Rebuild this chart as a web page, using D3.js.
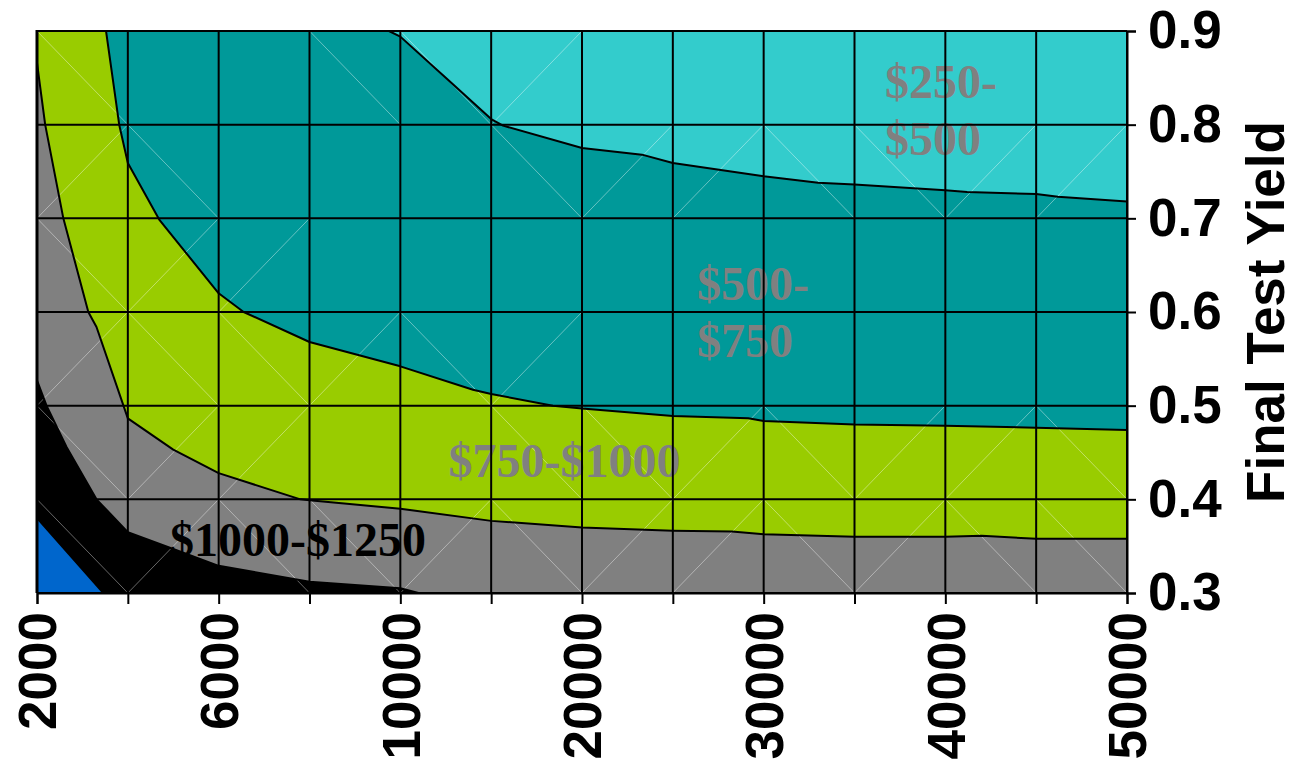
<!DOCTYPE html>
<html>
<head>
<meta charset="utf-8">
<script src="https://cdn.jsdelivr.net/npm/d3@7"></script>
<style>
  html, body { margin: 0; padding: 0; background: #fff; }
  svg { display: block; }
</style>
</head>
<body>
<svg id="chart" width="1295" height="763"></svg>
<script>
// ---- Data -------------------------------------------------------------
// Production volume categories along the bottom axis
const volumes = [2000, 4000, 6000, 8000, 10000, 15000, 20000, 25000, 30000, 35000, 40000, 45000, 50000];
// Categories that carry a printed label
const volumeTickLabels = [2000, 6000, 10000, 20000, 30000, 40000, 50000];
// Final test yield ticks on the right axis
const yieldTicks = [0.3, 0.4, 0.5, 0.6, 0.7, 0.8, 0.9];

// Cost contour lines, as [volume, final test yield] vertices
const contour500 = [[2000, 0.90], [9750, 0.90], [10000, 0.894], [12500, 0.850], [15000, 0.806], [15650, 0.799],
  [20000, 0.775], [23300, 0.768], [25000, 0.759], [30000, 0.745], [33000, 0.738], [35000, 0.736],
  [40000, 0.730], [41200, 0.728], [45000, 0.726], [46200, 0.723], [50000, 0.718]];
const contour750 = [[2000, 0.90], [3520, 0.90], [3810, 0.80], [4000, 0.759], [4700, 0.698], [6000, 0.620],
  [6550, 0.600], [8000, 0.568], [10000, 0.542], [14000, 0.517], [15000, 0.5125], [18400, 0.500],
  [20000, 0.497], [25000, 0.489], [29150, 0.4865], [30000, 0.4836], [35000, 0.480], [40000, 0.4786],
  [45000, 0.4765], [50000, 0.474]];
const contour1000 = [[2000, 0.866], [2180, 0.80], [2580, 0.70], [3130, 0.60], [3310, 0.584], [4000, 0.4865],
  [5000, 0.453], [6000, 0.428], [7800, 0.400], [8000, 0.399], [10000, 0.390], [15000, 0.377],
  [20000, 0.370], [25000, 0.3665], [28250, 0.3656], [30000, 0.3627], [35000, 0.360], [40000, 0.360],
  [42000, 0.361], [45000, 0.358], [50000, 0.358]];
const contour1250 = [[2000, 0.527], [2210, 0.500], [2650, 0.456], [3310, 0.400], [4000, 0.365], [5000, 0.347],
  [6000, 0.329], [8000, 0.312], [10000, 0.305], [11000, 0.300], [50000, 0.300]];
const contour1500 = [[2000, 0.380], [3460, 0.300], [50000, 0.300]];

// Cost bands, from the cheapest (top right) to the most expensive (bottom left)
const bandNames = ["$250-$500", "$500-$750", "$750-$1000", "$1000-$1250", "$1250-$1500", "$1500-$1750"];
// Lower edge of each band above it (the first band fills the whole plot)
const bandContours = [null, contour500, contour750, contour1000, contour1250, contour1500];

// Band labels printed inside the plot
const bandLabelLines = [["$250-", "$500"], ["$500-", "$750"], ["$750-$1000"], ["$1000-$1250"]];

// Surface mesh diagonals per grid cell, top row first: d = falling, u = rising, . = none
const meshDiagonals = [
  "d..ddu......",
  "ud...duudduu",
  "duu.........",
  "uddudu......",
  "duu..dduduud",
  "dudduduududd"
];

// ---- Layout & style ---------------------------------------------------
const W = 1295, H = 763;
const plot = { left: 37, right: 1127, top: 31, bottom: 593 };
const bandColors = ["#33CCCC", "#009999", "#99CC00", "#808080", "#000000", "#0066CC"];
const labelColors = ["#808080", "#808080", "#808080", "#000000"];
// Label anchors (volume, yield of first baseline)
const labelAnchors = [[36680, 0.8285], [26330, 0.6128], [12650, 0.4239], [4930, 0.339]];
const labelFont = 48, labelLineGap = 57;
const axisFont = 53;

const svg = d3.select("#chart");
svg.append("rect").attr("width", W).attr("height", H).attr("fill", "#fff");

// Piecewise-linear category scale: categories are evenly spaced
const step = (plot.right - plot.left) / (volumes.length - 1);
const x = d3.scaleLinear()
  .domain(volumes)
  .range(volumes.map((_, i) => plot.left + i * step));
const y = d3.scaleLinear().domain([0.3, 0.9]).range([plot.bottom, plot.top]);

svg.append("defs").append("clipPath").attr("id", "plotClip")
  .append("rect")
  .attr("x", plot.left).attr("y", plot.top)
  .attr("width", plot.right - plot.left).attr("height", plot.bottom - plot.top);

const g = svg.append("g").attr("clip-path", "url(#plotClip)");

// Band fills, stacked from top band down
const area = d3.area()
  .x(d => x(d[0]))
  .y0(y(0.3))
  .y1(d => y(d[1]));
bandContours.forEach((c, i) => {
  if (c === null) {
    g.append("rect")
      .attr("x", x(volumes[0])).attr("y", y(0.9))
      .attr("width", x(volumes[volumes.length - 1]) - x(volumes[0]))
      .attr("height", y(0.3) - y(0.9))
      .attr("fill", bandColors[i]);
  } else {
    g.append("path").datum(c).attr("d", area).attr("fill", bandColors[i]);
  }
});

// Faint surface mesh diagonals
const yRows = yieldTicks.slice().reverse(); // 0.9 .. 0.3
meshDiagonals.forEach((row, r) => {
  row.split("").forEach((k, c) => {
    if (k === ".") return;
    const x0 = x(volumes[c]), x1 = x(volumes[c + 1]);
    const yt = y(yRows[r]), yb = y(yRows[r + 1]);
    g.append("line")
      .attr("x1", x0).attr("x2", x1)
      .attr("y1", k === "d" ? yt : yb).attr("y2", k === "d" ? yb : yt)
      .attr("stroke", "#fff").attr("stroke-opacity", 0.4).attr("stroke-width", 1);
  });
});

// Contour lines
const line = d3.line().x(d => x(d[0])).y(d => y(d[1]));
bandContours.forEach(c => {
  if (c === null) return;
  g.append("path").datum(c).attr("d", line)
    .attr("fill", "none").attr("stroke", "#000").attr("stroke-width", 2)
    .attr("stroke-linejoin", "round");
});

// Band labels
bandLabelLines.forEach((lines, i) => {
  const t = g.append("text")
    .attr("x", x(labelAnchors[i][0]))
    .attr("y", y(labelAnchors[i][1]))
    .attr("font-family", "'Liberation Serif', 'Times New Roman', serif")
    .attr("font-weight", "bold")
    .attr("font-size", labelFont)
    .attr("fill", labelColors[i]);
  lines.forEach((s, j) => {
    t.append("tspan").attr("x", x(labelAnchors[i][0])).attr("dy", j === 0 ? 0 : labelLineGap).text(s);
  });
});

// Gridlines
const grid = svg.append("g");
grid.selectAll("line.v").data(volumes).join("line")
  .attr("x1", d => x(d)).attr("x2", d => x(d))
  .attr("y1", y(0.9)).attr("y2", y(0.3))
  .attr("stroke", "#000").attr("stroke-width", 2);
grid.selectAll("line.h").data(yieldTicks).join("line")
  .attr("x1", plot.left).attr("x2", plot.right)
  .attr("y1", d => y(d)).attr("y2", d => y(d))
  .attr("stroke", "#000").attr("stroke-width", 2);

// Left frame edge
svg.append("line")
  .attr("x1", plot.left).attr("x2", plot.left)
  .attr("y1", plot.top - 1).attr("y2", plot.bottom)
  .attr("stroke", "#000").attr("stroke-width", 3);

const fontFamily = "'Liberation Sans', Arial, sans-serif";

// Right axis: final test yield
const yAxis = svg.append("g")
  .attr("transform", `translate(${plot.right},0)`)
  .call(d3.axisRight(y).tickValues(yieldTicks).tickFormat(d3.format(".1f")).tickSize(9).tickPadding(12));
yAxis.select(".domain").attr("stroke", "#000").attr("stroke-width", 2);
yAxis.selectAll(".tick line").attr("stroke", "#000").attr("stroke-width", 2);
yAxis.selectAll(".tick text")
  .attr("font-family", fontFamily).attr("font-weight", "bold")
  .attr("font-size", axisFont).attr("fill", "#000");

// Bottom axis: volumes
const xAxis = svg.append("g")
  .attr("transform", `translate(0,${plot.bottom})`)
  .call(d3.axisBottom(x).tickValues(volumes)
    .tickFormat(d => volumeTickLabels.includes(d) ? String(d) : "")
    .tickSize(11));
xAxis.select(".domain").attr("stroke", "#000").attr("stroke-width", 2);
xAxis.selectAll(".tick line").attr("stroke", "#000").attr("stroke-width", 2);
xAxis.selectAll(".tick text")
  .attr("font-family", fontFamily).attr("font-weight", "bold")
  .attr("font-size", axisFont).attr("fill", "#000")
  .attr("x", null).attr("y", null).attr("dy", null)
  .attr("text-anchor", "end")
  .attr("transform", `translate(${0.358 * axisFont},19) rotate(-90)`);

// Axis title
svg.append("text")
  .attr("transform", `translate(1284,${(plot.top + plot.bottom) / 2}) rotate(-90)`)
  .attr("text-anchor", "middle")
  .attr("font-family", fontFamily).attr("font-weight", "bold")
  .attr("font-size", axisFont).attr("fill", "#000")
  .text("Final Test Yield");
</script>
</body>
</html>
